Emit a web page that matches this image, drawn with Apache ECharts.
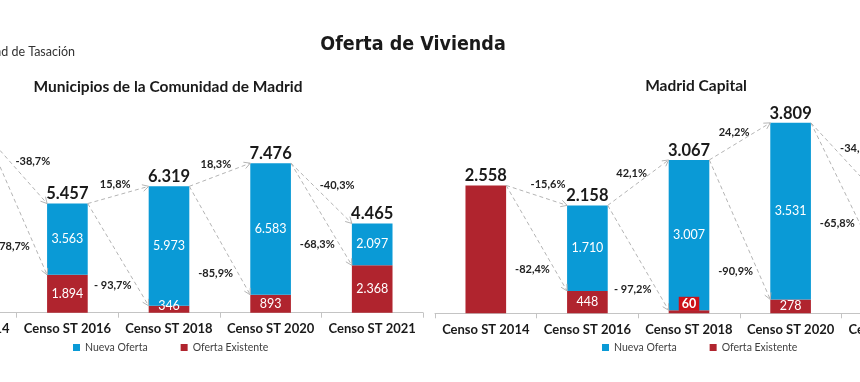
<!DOCTYPE html>
<html>
<head>
<meta charset="utf-8">
<script src="https://cdn.jsdelivr.net/npm/echarts@6/dist/echarts.min.js"></script>
<style>
html,body{margin:0;padding:0;background:#fff;overflow:hidden;width:860px;height:382px;}
#c{position:absolute;left:-120px;top:0;width:1100px;height:382px;}
</style>
</head>
<body>
<div id="c"></div>
<script>
// ---- data ----
const categories = ['Censo ST 2014', 'Censo ST 2016', 'Censo ST 2018', 'Censo ST 2020', 'Censo ST 2021'];

const regionNueva     = [0, 3563, 5973, 6583, 2097];
const regionExistente = [8900, 1894, 346, 893, 2368];
const regionTotal     = [8900, 5457, 6319, 7476, 4465];
const regionTotalChange    = ['-38,7%', '15,8%', '18,3%', '-40,3%'];
const regionExistingChange = ['-78,7%', '- 93,7%', '-85,9%', '-68,3%'];

const capitalNueva     = [0, 1710, 3007, 3531, 1190];
const capitalExistente = [2558, 448, 60, 278, 1300];
const capitalTotal     = [2558, 2158, 3067, 3809, 2490];
const capitalTotalChange    = ['-15,6%', '42,1%', '24,2%', '-34,6%'];
const capitalExistingChange = ['-82,4%', '- 97,2%', '-90,9%', '-65,8%'];

const legendNames = ['Nueva Oferta', 'Oferta Existente'];

// ---- style ----
const BLUE = '#0a9ad6';
const RED = '#b0242e';
const FONT = 'Lato';
const yMax = [10000, 4000];

function fmtNum(v) {
  return String(v).replace(/\B(?=(\d{3})+(?!\d))/g, '.');
}

function arrowData(total, existente) {
  const d = [];
  for (let i = 0; i < total.length - 1; i++) {
    d.push([i, total[i], i + 1, total[i + 1], 0]);
    d.push([i, total[i], i + 1, existente[i + 1], 1]);
  }
  return d;
}

function arrowRender(totalLbl, existLbl) {
  return function (params, api) {
    const i0 = api.value(0), v0 = api.value(1), i1 = api.value(2), v1 = api.value(3), kind = api.value(4);
    const half = api.size([1, 0])[0] * 0.2;
    const a = api.coord([i0, v0]);
    const b = api.coord([i1, v1]);
    const x1 = a[0] + half, y1 = a[1], x2 = b[0] - half, y2 = b[1];
    const dx = x2 - x1, dy = y2 - y1, len = Math.sqrt(dx * dx + dy * dy);
    const ux = dx / len, uy = dy / len;
    const ang = 0.5, hl = 7;
    const bx = -ux, by = -uy;
    const p1 = [x2 + hl * (bx * Math.cos(ang) - by * Math.sin(ang)), y2 + hl * (bx * Math.sin(ang) + by * Math.cos(ang))];
    const p2 = [x2 + hl * (bx * Math.cos(-ang) - by * Math.sin(-ang)), y2 + hl * (bx * Math.sin(-ang) + by * Math.cos(-ang))];
    let tx, ty, align;
    if (kind === 0) {
      const nx = uy, ny = -ux;
      tx = (x1 + x2) / 2 + 11 * nx + (dy > 0 ? 8 : 0);
      ty = (y1 + y2) / 2 + 11 * ny;
      align = 'center';
    } else {
      const t = 0.8;
      tx = x1 + t * dx - 5;
      ty = y1 + t * dy;
      align = 'right';
    }
    const text = kind === 0 ? totalLbl[i0] : existLbl[i0];
    return {
      type: 'group',
      children: [
        { type: 'line', shape: { x1: x1, y1: y1, x2: x2, y2: y2 },
          style: { stroke: '#b4b4b4', lineWidth: 1, lineDash: [4, 3] } },
        { type: 'polyline', shape: { points: [p1, [x2, y2], p2] },
          style: { stroke: '#b4b4b4', lineWidth: 1, fill: null } },
        { type: 'text', x: tx, y: ty,
          style: { text: text, fill: '#222', fontSize: 11, fontWeight: 'bold', fontFamily: FONT,
                   align: align, verticalAlign: 'middle' } }
      ]
    };
  };
}

function barSeries(k, nueva, existente, total, tLbl, eLbl) {
  const max = yMax[k];
  return [
    {
      name: legendNames[1], type: 'bar', stack: 's' + k, xAxisIndex: k, yAxisIndex: k,
      barWidth: '40%', itemStyle: { color: RED },
      data: existente.map(function (v, i) {
        const frac = v / max;
        const lbl = { show: nueva[i] > 0, color: '#fff', fontSize: 12.5, fontFamily: FONT,
                      formatter: function (p) { return fmtNum(p.value); } };
        if (frac < 0.025) {
          Object.assign(lbl, { position: 'insideBottom', distance: 2.5, backgroundColor: '#cc1018', padding: [1, 3, 0, 3], fontWeight: 'bold' });
        } else if (frac < 0.06) {
          Object.assign(lbl, { position: 'insideBottom', distance: 0 });
        } else {
          lbl.position = 'inside';
        }
        return { value: v, label: lbl };
      })
    },
    {
      name: legendNames[0], type: 'bar', stack: 's' + k, xAxisIndex: k, yAxisIndex: k,
      barWidth: '40%', itemStyle: { color: BLUE },
      label: { show: true, position: 'inside', color: '#fff', fontSize: 12.5, fontFamily: FONT,
               formatter: function (p) { return p.value > 0 ? fmtNum(p.value) : ''; } },
      data: nueva
    },
    {
      name: 'Total', type: 'bar', xAxisIndex: k, yAxisIndex: k, barWidth: '40%', barGap: '-100%',
      silent: true, itemStyle: { color: 'rgba(0,0,0,0)' }, z: 1,
      label: { show: true, position: 'top', distance: 1, color: '#1a1a1a', fontSize: 16.5,
               fontWeight: 'bold', fontFamily: FONT,
               formatter: function (p) { return fmtNum(p.value); } },
      data: total
    },
    {
      type: 'custom', xAxisIndex: k, yAxisIndex: k, z: 5, silent: true,
      renderItem: arrowRender(tLbl, eLbl),
      encode: { x: [0, 2], y: [1, 3] },
      data: arrowData(total, existente)
    }
  ];
}

function xAxis(k) {
  return {
    type: 'category', gridIndex: k, data: categories,
    axisLine: { lineStyle: { color: '#c4c4c4', width: 1 } },
    axisTick: { show: true, length: 5, lineStyle: { color: '#c4c4c4' } },
    axisLabel: { interval: 0, margin: 10, color: '#1a1a1a', fontSize: 13, fontWeight: 'bold', fontFamily: FONT }
  };
}
function yAxis(k) {
  return { type: 'value', gridIndex: k, min: 0, max: yMax[k], show: false, splitLine: { show: false } };
}

function legend(left) {
  return { data: legendNames, left: left, top: 342, padding: 0, icon: 'rect', itemWidth: 7, itemHeight: 7, itemGap: 33,
           textStyle: { color: '#404040', fontSize: 10.5, fontFamily: FONT } };
}

const chart = echarts.init(document.getElementById('c'), null, { renderer: 'canvas' });
chart.setOption({
  animation: false,
  grid: [
    { left: 35, top: 112.7, width: 508, height: 200 },
    { left: 555, top: 113.3, width: 508, height: 200 }
  ],
  xAxis: [xAxis(0), xAxis(1)],
  yAxis: [yAxis(0), yAxis(1)],
  legend: [legend(193), legend(722)],
  graphic: [
    { type: 'text', x: 533, y: 45, style: { text: 'Oferta de Vivienda', fill: '#1a1a1a', fontSize: 19.5, fontWeight: 'bold',
      fontFamily: 'DejaVu Sans Condensed', align: 'center', verticalAlign: 'middle' } },
    { type: 'text', x: 195, y: 52, style: { text: 'Sociedad de Tasación', fill: '#333', fontSize: 12.5, fontFamily: FONT,
      align: 'right', verticalAlign: 'middle' } },
    { type: 'text', x: 288, y: 87, style: { text: 'Municipios de la Comunidad de Madrid', fill: '#1a1a1a', fontSize: 15.5,
      fontWeight: 'bold', fontFamily: FONT, align: 'center', verticalAlign: 'middle' } },
    { type: 'text', x: 816, y: 86, style: { text: 'Madrid Capital', fill: '#1a1a1a', fontSize: 15.5,
      fontWeight: 'bold', fontFamily: FONT, align: 'center', verticalAlign: 'middle' } }
  ],
  series: [].concat(
    barSeries(0, regionNueva, regionExistente, regionTotal, regionTotalChange, regionExistingChange),
    barSeries(1, capitalNueva, capitalExistente, capitalTotal, capitalTotalChange, capitalExistingChange)
  )
});
</script>
</body>
</html>
